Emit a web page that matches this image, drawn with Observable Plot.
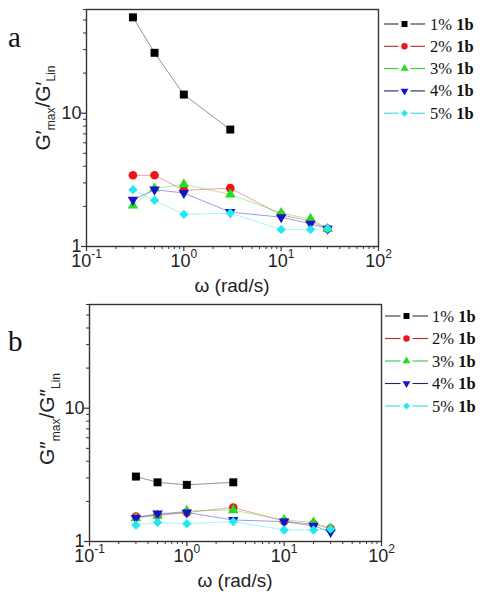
<!DOCTYPE html>
<html><head><meta charset="utf-8">
<script src="https://cdn.jsdelivr.net/npm/d3@7"></script>
<script src="https://cdn.jsdelivr.net/npm/@observablehq/plot@0.6"></script>
<style>
body{margin:0;background:#fff;}
#fig{position:relative;width:485px;height:600px;overflow:hidden;}
#fig svg{position:absolute;left:0;}
</style></head><body><div id="fig"></div>
<script>
// ---- data ----
const omega = [0.3, 0.5, 1, 3, 10, 20, 30];
const seriesLabels = ["1%", "2%", "3%", "4%", "5%"];
const sampleLabel = "1b";
// panel a: G'max / G'Lin
const a1 = [52.4, 28.4, 13.8, 7.54];
const a2 = [3.42, 3.42, 2.64, 2.74, 1.73, 1.55, 1.36];
const a3 = [2.03, 2.72, 2.93, 2.46, 1.78, 1.61, 1.36];
const a4 = [2.24, 2.67, 2.52, 1.81, 1.66, 1.48, 1.36];
const a5 = [2.67, 2.22, 1.74, 1.78, 1.34, 1.34, 1.36];
// panel b: G''max / G''Lin
const b1 = [3.07, 2.78, 2.66, 2.78];
const b2 = [1.54, 1.57, 1.65, 1.80, 1.42, 1.35, 1.25];
const b3 = [1.50, 1.57, 1.70, 1.72, 1.45, 1.39, 1.25];
const b4 = [1.50, 1.62, 1.65, 1.45, 1.41, 1.31, 1.18];
const b5 = [1.33, 1.39, 1.36, 1.41, 1.22, 1.22, 1.24];
// ticks
const xMajor = [0.1, 1, 10, 100];
const xMinorAll = [0.2,0.3,0.4,0.5,0.6,0.7,0.8,0.9,2,3,4,5,6,7,8,9,20,30,40,50,60,70,80,90];
const yMajor = [1, 10];
const yMinor = [2,3,4,5,6,7,8,9,20,30,40,50,60];

// ---- styles ----
const colors = ["#000000", "#ee1515", "#22dd22", "#1414cc", "#22e8f0"];
const legendLineColors = ["#333333", "#b02a2a", "#33cc33", "#22226e", "#33dddd"];
const triangleDown = {
  draw(ctx, size) {
    const p = {
      moveTo: (x, y) => ctx.moveTo(x, -y),
      lineTo: (x, y) => ctx.lineTo(x, -y),
      closePath: () => ctx.closePath()
    };
    d3.symbolTriangle.draw(p, size);
  }
};
const symbols = [d3.symbolSquare, d3.symbolCircle, d3.symbolTriangle, triangleDown, d3.symbolDiamond2];
const radii = [4.5, 4.3, 3.9, 3.9, 4.2];

function rows(vals) { return vals.map((v, i) => ({x: omega[i], y: v})); }

function panel(cfg) {
  const seriesData = cfg.series.map(rows);
  const marks = [
    Plot.axisX(xMajor, {tickSize: 5, tickPadding: 3, tickFormat: d => "10^" + Math.round(Math.log10(d)), label: null, strokeWidth: 1.2}),
    Plot.axisX(xMinorAll, {tickSize: 3, tickFormat: () => "", label: null, strokeWidth: 1}),
    Plot.axisY(yMajor, {tickSize: 5, tickPadding: 0, tickFormat: d => String(d), label: null, strokeWidth: 1.2}),
    Plot.axisY(yMinor, {tickSize: 3, tickFormat: () => "", label: null, strokeWidth: 1}),
    Plot.frame({stroke: "#333", strokeWidth: 1.4})
  ];
  seriesData.forEach((d, i) => {
    marks.push(Plot.line(d, {x: "x", y: "y", stroke: colors[i], strokeOpacity: 0.42, strokeWidth: 1}));
  });
  seriesData.forEach((d, i) => {
    marks.push(Plot.dot(d, {x: "x", y: "y", fill: colors[i], symbol: symbols[i], r: radii[i], stroke: "none"}));
  });
  const svg = Plot.plot({
    width: 485, height: 300,
    marginLeft: cfg.mL, marginRight: cfg.mR, marginTop: cfg.mT, marginBottom: cfg.mB,
    x: {type: "log", domain: [0.1, 100]},
    y: {type: "log", domain: [1, 60]},
    style: {fontFamily: "'Liberation Sans', Arial, sans-serif", fontSize: "18px", color: "#333", background: "none", overflow: "visible"},
    marks
  });
  svg.style.top = cfg.top + "px";
  // superscript tick labels
  svg.querySelectorAll("text").forEach(t => {
    const m = /^10\^(-?\d+)$/.exec(t.textContent);
    if (m) {
      t.textContent = "";
      const s = d3.select(t);
      s.append("tspan").text("10").attr("fill", "#222");
      s.append("tspan").text(m[1]).attr("font-size", "12px").attr("dy", "-0.75em").attr("fill", "#222");
    } else if (t.textContent === "1" || t.textContent === "10") {
      t.setAttribute("fill", "#222");
    }
  });
  const sel = d3.select(svg);
  // y-axis title
  const yt = sel.append("text")
    .attr("transform", `translate(${cfg.ytX},${cfg.ytY}) rotate(-90)`)
    .attr("text-anchor", "middle")
    .attr("font-family", "'Liberation Sans', Arial, sans-serif")
    .attr("font-size", 21).attr("fill", "#222");
  yt.append("tspan").text("G" + cfg.prime);
  yt.append("tspan").text("max").attr("font-size", 12).attr("dy", cfg.sub);
  yt.append("tspan").text("/G" + cfg.prime).attr("dy", -cfg.sub);
  yt.append("tspan").text("Lin").attr("font-size", 12).attr("dy", cfg.sub);
  // x-axis title
  sel.append("text")
    .attr("x", (cfg.mL + 485 - cfg.mR) / 2).attr("y", cfg.xtY)
    .attr("text-anchor", "middle")
    .attr("font-family", "'Liberation Sans', Arial, sans-serif")
    .attr("font-size", 19).attr("fill", "#222")
    .text("\u03c9 (rad/s)");
  // panel letter
  sel.append("text").attr("x", 8).attr("y", cfg.letterY)
    .attr("text-anchor", "start")
    .attr("font-family", "'Liberation Serif', 'Times New Roman', serif")
    .attr("font-size", 29).attr("fill", "#111").text(cfg.letter);
  // legend
  const lg = sel.append("g").attr("text-anchor", "start");
  seriesLabels.forEach((lab, i) => {
    const y = cfg.lgY + i * cfg.lgStep;
    const mx = (cfg.lgX1 + cfg.lgX2) / 2;
    lg.append("line").attr("x1", cfg.lgX1).attr("x2", mx - 6).attr("y1", y).attr("y2", y)
      .attr("stroke", legendLineColors[i]).attr("stroke-width", 1.1);
    lg.append("line").attr("x1", mx + 6).attr("x2", cfg.lgX2).attr("y1", y).attr("y2", y)
      .attr("stroke", legendLineColors[i]).attr("stroke-width", 1.1);
    lg.append("path").attr("transform", `translate(${mx},${y})`)
      .attr("d", d3.symbol().type(symbols[i]).size(Math.PI * (radii[i] * 0.75) ** 2)())
      .attr("fill", colors[i]);
    const tx = lg.append("text").attr("x", cfg.lgTX).attr("y", y + 5.5)
      .attr("text-anchor", "start")
      .attr("font-family", "'Liberation Serif', 'Times New Roman', serif")
      .attr("font-size", 16.5).attr("fill", "#111");
    tx.append("tspan").text(lab + " ");
    tx.append("tspan").text(sampleLabel).attr("font-weight", "bold");
  });
  return svg;
}

const fig = document.getElementById("fig");
fig.appendChild(panel({
  series: [a1, a2, a3, a4, a5], top: 0,
  mL: 86, mR: 107, mT: 9, mB: 54,
  ytX: 50, ytY: 108, prime: "\u2032", sub: 5,
  xtY: 292, letter: "a", letterY: 47,
  lgY: 24, lgStep: 22.3, lgX1: 384, lgX2: 425, lgTX: 430
}));
fig.appendChild(panel({
  series: [b1, b2, b3, b4, b5], top: 300,
  mL: 89, mR: 104, mT: 4, mB: 59,
  ytX: 54, ytY: 119, prime: "\u2033", sub: 6,
  xtY: 287, letter: "b", letterY: 51,
  lgY: 16, lgStep: 22.5, lgX1: 385, lgX2: 428, lgTX: 432
}));
</script></body></html>
